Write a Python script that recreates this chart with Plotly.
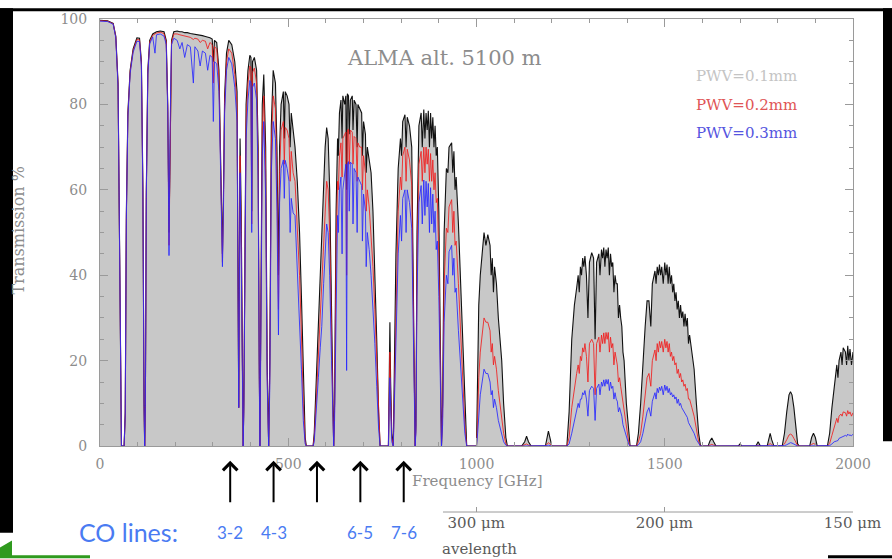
import plotly.graph_objects as go

# ---------------- data ----------------
freq_ghz = [
    0, 20, 35, 42, 48, 52, 55, 57, 64, 67, 70, 74, 80, 88, 98, 105, 110, 114, 117, 118.7,
    120.5, 123, 127, 132, 140, 146, 150, 160, 170, 176, 180, 183.3, 186.5, 190, 196, 205, 212, 218, 225, 232,
    240, 248, 252, 260, 266, 272, 280, 286, 292, 298, 301, 304, 310, 316, 320, 323, 325.2, 328, 331, 336,
    342, 350, 358, 364, 367, 368.5, 370, 372, 375, 378, 380.2, 382, 385, 388, 393, 398, 401, 403, 405, 410,
    416, 420, 423, 424.8, 427, 431, 435, 440, 444, 448, 451, 455, 460, 466, 470, 474, 477, 481, 487, 492,
    497, 502, 508, 513, 518, 524, 530, 535, 540, 545, 548, 566, 569, 574, 580, 585, 589, 594, 598, 602,
    606, 610, 615, 619, 620.7, 623, 627, 631, 636, 640, 645, 650, 653, 655, 657, 660, 665, 670, 675, 680,
    685, 690, 695, 700, 705, 710, 715, 720, 725, 730, 735, 740, 744, 766, 768, 770, 772, 775, 779, 782,
    786, 792, 798, 804, 810, 816, 822, 828, 832, 835, 837, 839, 842, 847, 853, 860, 866, 872, 878, 884,
    890, 896, 900, 904, 907, 910, 914, 920, 927, 934, 940, 946, 952, 958, 964, 969, 974, 1000, 1003, 1006,
    1010, 1015, 1020, 1025, 1030, 1036, 1042, 1048, 1053, 1058, 1063, 1067, 1072, 1078, 1082, 1120, 1128, 1133, 1138, 1145,
    1183, 1188, 1191, 1195, 1200, 1240, 1246, 1253, 1260, 1266, 1270, 1276, 1282, 1288, 1292, 1296, 1300, 1306, 1311, 1315,
    1319, 1325, 1332, 1338, 1344, 1350, 1356, 1362, 1368, 1374, 1380, 1386, 1392, 1398, 1404, 1408, 1425, 1430, 1436, 1442,
    1448, 1453, 1458, 1463, 1467, 1474, 1480, 1486, 1492, 1500, 1506, 1512, 1518, 1524, 1530, 1536, 1542, 1548, 1554, 1560,
    1566, 1572, 1578, 1584, 1590, 1595, 1615, 1620, 1625, 1630, 1636, 1695, 1700, 1705, 1742, 1748, 1754, 1772, 1777, 1780,
    1784, 1790, 1812, 1818, 1824, 1830, 1834, 1838, 1843, 1848, 1853, 1857, 1885, 1890, 1895, 1900, 1905, 1932, 1938, 1944,
    1950, 1957, 1963, 1968, 1974, 1980, 1986, 1992, 2000,
]

trans_pwv01 = [
    99.7, 99.6, 99.0, 96, 85, 50, 10, 0, 0, 8, 55, 78, 88, 93, 95.6, 95.5, 90, 60, 10, 0,
    10, 60, 88, 95, 96.5, 96.8, 97, 97.2, 97, 95, 80, 50, 80, 95, 97, 97.2, 97, 97, 96.8, 96.8,
    96.6, 96.5, 96.5, 96.3, 96.2, 96.1, 95.9, 95.8, 95.6, 95.3, 90, 95, 94.5, 88, 70, 50, 45, 60, 82, 92,
    95, 94, 90, 83, 40, 9, 40, 72, 55, 15, 0, 10, 60, 80, 88, 91.5, 91, 55, 90, 91,
    88, 70, 20, 0, 30, 80, 87, 70, 20, 0, 20, 75, 88, 85, 70, 40, 70, 80, 83, 83,
    82, 80, 78, 74, 70, 62, 50, 35, 15, 2, 0, 0, 3, 15, 30, 40, 47, 60, 70, 74.6,
    72, 60, 30, 5, 0, 10, 55, 72, 78, 81, 82, 80, 82, 60, 82.5, 82, 81, 82, 81, 80,
    80, 79, 78, 76, 73, 70, 67, 64, 55, 42, 25, 8, 0, 0, 15, 29, 15, 3, 0, 20,
    45, 65, 72, 76, 77.6, 77, 75, 70, 40, 5, 0, 5, 50, 75, 78, 78.8, 78, 78.5, 78, 77,
    75, 70, 55, 20, 0, 10, 50, 65, 70, 71, 69, 63, 52, 38, 22, 8, 0, 0, 15, 33,
    40, 46, 50, 47, 49.5, 47, 44, 42, 38, 30, 25, 20, 10, 2, 0, 0, 1, 2.3, 1, 0,
    0, 2, 3.5, 2, 0, 0, 8, 25, 33, 37, 40, 42, 44, 44.5, 40, 30, 43, 45.3, 44, 25,
    43, 45, 46, 46.5, 46, 46.5, 45, 43, 40, 38, 33, 28, 20, 10, 3, 0, 0, 3, 10, 20,
    28, 34, 34, 28, 38, 41, 42, 42.5, 42, 43, 42.5, 42, 40, 38, 36, 34, 33, 31.5, 31, 30,
    26, 22, 18, 10, 3, 0, 0, 1.2, 1.9, 1, 0, 0, 0.5, 0, 0, 1, 0, 0, 2, 3,
    1.5, 0, 0, 3, 8, 12, 12.7, 12, 9, 4, 0.5, 0, 0, 2, 3, 2, 0, 0, 3, 9,
    14, 19, 20, 22, 23, 22, 23.5, 22.7, 22,
]

trans_pwv02 = [
    99.6, 99.5, 98.9, 95.8, 84.5, 49, 9, 0, 0, 7, 54, 77.5, 87.6, 92.6, 95.2, 95.1, 89.5, 59, 9.5, 0,
    9.5, 59, 87.5, 94.6, 96.2, 96.5, 96.7, 96.9, 96.6, 94.5, 79, 47, 79, 94.5, 96.5, 96.5, 96.3, 96.2, 96, 96,
    95.7, 95.2, 95.5, 95.3, 94.5, 95, 94.8, 93, 94.5, 94, 85, 93.5, 93, 86, 68, 47, 43, 58, 80, 90,
    93, 92, 87, 80, 37, 9, 37, 68, 50, 13, 0, 9, 56, 76, 85, 89, 88.5, 52, 87.5, 88.5,
    85, 66, 18, 0, 27, 74, 82, 64, 17, 0, 17, 70, 82, 79, 62, 32, 64, 74, 76, 74.6,
    74, 72, 69, 64, 62, 52, 40, 26, 10, 1, 0, 0, 2, 10, 22, 31, 37, 48, 57, 62,
    60, 50, 25, 4, 0, 8, 45, 62, 68, 71, 72, 73, 73.5, 40, 74, 74.2, 74, 73.5, 72.5, 72,
    71, 70, 70, 68, 64, 60, 56, 50, 42, 32, 19, 6, 0, 0, 12, 22, 12, 2, 0, 14,
    36, 55, 63, 68, 70, 69.5, 67, 61, 34, 4, 0, 4, 42, 66, 69, 70, 70, 69.5, 68.5, 67,
    64, 58, 44, 15, 0, 7, 38, 51, 56, 57.7, 55, 48, 38, 26, 14, 5, 0, 0, 6, 16,
    22, 27, 30, 29, 29, 27, 24, 21, 18, 13, 9, 6, 3, 0.5, 0, 0, 0.2, 0.5, 0.2, 0,
    0, 0.5, 0.8, 0.5, 0, 0, 2, 9, 14, 17, 19, 21, 23, 24, 21, 15, 24, 25, 24, 12,
    24, 25.5, 26, 26.5, 26.6, 26.6, 25.5, 24, 22, 19, 16, 12, 8, 4, 1, 0, 0, 1, 3, 7,
    12, 16, 17, 14, 20, 22.5, 24, 24.5, 24.5, 25, 24.5, 24, 22, 21, 19.5, 18, 17, 15.5, 14.5, 13.5,
    11, 9, 7, 4, 1, 0, 0, 0.2, 0.4, 0.2, 0, 0, 0.1, 0, 0, 0.2, 0, 0, 0.4, 0.6,
    0.3, 0, 0, 0.5, 1.5, 2.6, 2.8, 2.6, 1.8, 0.8, 0.1, 0, 0, 0.4, 0.6, 0.4, 0, 0, 0.6, 2.5,
    4.5, 6.5, 7, 7.5, 8, 7.8, 8.3, 8, 7.8,
]

trans_pwv03 = [
    99.5, 99.4, 98.8, 95.6, 84, 48, 8, 0, 0, 7, 53, 77, 87.2, 92.2, 94.8, 94.7, 89, 58, 9, 0,
    9, 58, 87, 94.2, 95.8, 92, 96.3, 96.5, 96, 94, 78, 44.6, 78, 94, 95.5, 95, 93, 94.5, 91, 94,
    93.5, 85, 93.5, 92.5, 89, 92.5, 92, 88, 91.5, 91, 76, 90, 89.5, 83, 66, 45, 42, 56, 78, 88,
    91, 89.5, 84, 76, 34, 9, 34, 64, 45, 11, 0, 8, 52, 72, 81, 85.6, 85, 50, 84, 85,
    81, 62, 16, 0, 24, 68, 76, 58, 15, 0, 14, 64, 76, 72, 55, 26, 57, 65, 67, 66.9,
    65, 62, 58, 54.6, 54, 42, 30, 18, 6, 0.5, 0, 0, 1, 7, 16, 23, 28, 38, 46, 52,
    50, 40, 20, 3, 0, 6, 38, 54, 60, 63, 60, 65, 66, 17.7, 66, 66.6, 66.5, 66, 65, 64,
    63, 62, 61, 59, 55, 50, 46, 40, 33, 24, 14, 4, 0, 0, 9, 16, 9, 1, 0, 10,
    28, 45, 54, 58, 60, 60, 57, 51, 28, 3, 0, 3, 35, 57, 61, 62.3, 62, 61.5, 60.5, 59,
    55, 48, 35, 11, 0, 5, 29, 40, 45.5, 47, 44, 37, 27, 18, 9, 3, 0, 0, 3, 8,
    12, 15, 18, 17, 17, 15, 13, 11, 9, 6, 4, 2.5, 1, 0.2, 0, 0, 0, 0.1, 0, 0,
    0, 0.1, 0.2, 0.1, 0, 0, 0.5, 3, 6, 8, 10, 11, 12.5, 13, 11, 7, 13, 14, 13.5, 6,
    13.5, 14.5, 15, 15.5, 15.6, 15.6, 15, 14, 12.5, 10.5, 9, 7, 4, 2, 0.5, 0, 0, 0.3, 1, 3,
    5.5, 8, 9, 7, 10.5, 12.5, 13.5, 13.8, 14, 14.3, 14, 13.5, 12.5, 12, 11.5, 11, 10, 8.5, 7.5, 6.7,
    5, 4, 3, 1.5, 0.5, 0, 0, 0, 0.1, 0, 0, 0, 0, 0, 0, 0, 0, 0, 0.1, 0.1,
    0, 0, 0, 0.1, 0.3, 0.7, 0.8, 0.7, 0.4, 0.2, 0, 0, 0, 0.1, 0.1, 0.1, 0, 0, 0.1, 0.5,
    1, 1.2, 1.8, 2, 2.3, 2.5, 2.8, 2.6, 2.8,
]

# fine line structure inside the windows (narrow dips), same three PWV columns
detail_freq = [489.5, 505, 633, 643, 662, 672, 683, 697, 707, 801, 813, 856, 863, 869, 875, 881, 887, 893,
               924, 937, 943, 1039, 1045, 1273, 1279, 1285, 1328, 1335, 1341, 1347, 1353, 1359, 1365,
               1371, 1377, 1383, 1389, 1477, 1483, 1489, 1496, 1503, 1509, 1515, 1521, 1527, 1533, 1539,
               1545, 1551, 1557, 1563, 1960, 1971, 1983, 1989, 1996]
detail_pwv01 = [72, 70, 68, 72, 73, 74, 70, 68, 64, 68, 70, 70, 72, 74, 70, 72, 70, 68,
                64, 64, 60, 40, 36, 36, 40, 42, 40, 44, 42, 44, 40, 42, 36,
                38, 30, 30, 22, 38, 40, 40, 38, 40, 38, 38, 36, 34, 32, 30,
                30, 28, 28, 24, 16, 19, 19, 20, 19]
detail_pwv02 = [66, 62, 60, 63, 66, 66, 62, 60, 55, 60, 62, 62, 64, 66, 62, 62, 60, 57,
                50, 50, 47, 22, 19, 17, 20, 22, 22, 24, 24, 25, 22, 23, 19,
                20, 15, 14, 10, 20, 22, 23, 22, 23, 22, 21, 20, 19, 17, 16,
                15, 14, 13, 11, 5.5, 7, 7, 7.5, 7]
detail_pwv03 = [58, 50, 50, 45, 55, 52, 50, 48, 42, 48, 50, 52, 54, 56, 50, 52, 50, 46,
                38, 40, 36, 12, 9, 9, 11, 12, 12, 14, 14, 14.5, 13, 13.5, 11,
                11, 8, 8, 5, 11, 12.5, 13, 12, 13, 12.5, 12, 11.5, 11, 10, 9.5,
                9, 8, 7, 5.5, 1.3, 2, 2.3, 2.5, 2.4]

series_labels = ["PWV=0.1mm", "PWV=0.2mm", "PWV=0.3mm"]
co_freq_ghz = [345.8, 461.0, 576.3, 691.5, 806.7]
co_labels = ["3-2", "4-3", "", "6-5", "7-6"]
x_ticks = [0, 500, 1000, 1500, 2000]
y_ticks = [0, 20, 40, 60, 80, 100]
wavelength_um = [300, 200, 150]

# merge the coarse curve and the fine line structure, ordered by frequency
rows = sorted(list(zip(freq_ghz, trans_pwv01, trans_pwv02, trans_pwv03)) +
              list(zip(detail_freq, detail_pwv01, detail_pwv02, detail_pwv03)))
f_all = [r[0] for r in rows]
t01 = [r[1] for r in rows]
t02 = [r[2] for r in rows]
t03 = [r[3] for r in rows]

# ---------------- layout helpers ----------------
W, H = 892, 559
L, R, T, B = 100, 853, 11, 512   # paper area in pixels
PW, PH = R - L, B - T

def px(x):
    return (x - L) / PW

def py(y):
    return (B - y) / PH

SERIF = "DejaVu Serif, serif"
GRAY = "#8c8c8c"
DARK = "#5a5a5a"
CO_BLUE = "#4a7bf2"
SANS = "Lato, Noto Sans, sans-serif"

fig = go.Figure()
fig.add_trace(go.Scatter(
    x=f_all, y=t01, mode="lines", name=series_labels[0],
    line=dict(color="#111111", width=1.1), fill="tozeroy", fillcolor="#c8c8c8",
    showlegend=False, hoverinfo="skip"))
fig.add_trace(go.Scatter(
    x=f_all, y=t02, mode="lines", name=series_labels[1],
    line=dict(color="rgba(240,30,30,0.85)", width=1), showlegend=False, hoverinfo="skip"))
fig.add_trace(go.Scatter(
    x=f_all, y=t03, mode="lines", name=series_labels[2],
    line=dict(color="rgba(40,40,255,0.85)", width=1), showlegend=False, hoverinfo="skip"))
# invisible trace carrying the wavelength axis
fig.add_trace(go.Scatter(x=[1000], y=[-50], xaxis="x2", mode="markers",
                         marker=dict(opacity=0), showlegend=False, hoverinfo="skip"))

wl_ghz = [299792.458 / w for w in wavelength_um]

axis_common = dict(showline=True, linecolor="#9a9a9a", linewidth=1, ticks="inside",
                   tickcolor="#9a9a9a", showgrid=False, zeroline=False,
                   tickfont=dict(family=SERIF, size=14, color=GRAY))

fig.update_layout(
    width=W, height=H,
    margin=dict(l=L, r=W - R, t=T, b=H - B, pad=0),
    paper_bgcolor="white", plot_bgcolor="white",
    xaxis=dict(range=[0, 2000], tickvals=x_ticks, ticklen=8, mirror="ticks",
               minor=dict(dtick=100, ticklen=4, ticks="inside", tickcolor="#9a9a9a"),
               ticklabelstandoff=5, **axis_common),
    yaxis=dict(range=[0, 100], tickvals=y_ticks, ticklen=8, mirror="ticks",
               domain=[py(445), 1],
               minor=dict(dtick=5, ticklen=4, ticks="inside", tickcolor="#9a9a9a"),
               ticklabelstandoff=9, **axis_common),
    xaxis2=dict(range=[0, 2000], overlaying="x", anchor="free", position=0, side="bottom",
                showline=False, showgrid=False, zeroline=False, ticks="inside", ticklen=5,
                tickcolor="#9a9a9a", tickvals=wl_ghz, ticklabelstandoff=0,
                ticktext=[f"{w} \u03bcm" for w in wavelength_um],
                tickfont=dict(family=SERIF, size=15, color=DARK)),
)

shapes = []
# wavelength axis line (visible part)
shapes.append(dict(type="line", xref="x", yref="paper", x0=911, x1=2000, y0=0, y1=0,
                   line=dict(color="#9a9a9a", width=1)))
# slide borders
shapes.append(dict(type="rect", xref="paper", yref="paper", x0=px(0), x1=px(13), y0=py(533), y1=py(0),
                   fillcolor="black", line=dict(width=0), layer="above"))
shapes.append(dict(type="rect", xref="paper", yref="paper", x0=px(0), x1=px(892), y0=py(3), y1=py(0),
                   fillcolor="black", line=dict(width=0), layer="above"))
shapes.append(dict(type="rect", xref="paper", yref="paper", x0=px(883), x1=px(892), y0=py(440), y1=py(0),
                   fillcolor="black", line=dict(width=0), layer="above"))
shapes.append(dict(type="rect", xref="paper", yref="paper", x0=px(828), x1=px(892), y0=py(559), y1=py(556),
                   fillcolor="black", line=dict(width=0), layer="above"))
# green corner
shapes.append(dict(type="path", xref="paper", yref="paper",
                   path=f"M {px(0)},{py(559)} L {px(0)},{py(548)} L {px(12)},{py(541)} L {px(12)},{py(556)} L {px(90)},{py(556)} L {px(90)},{py(559)} Z",
                   fillcolor="#2f9a1e", line=dict(width=0), layer="above"))
fig.update_layout(shapes=shapes)

ann = []
ann.append(dict(text="ALMA alt. 5100 m", xref="paper", yref="paper", x=px(345), y=py(51),
                xanchor="left", yanchor="middle", showarrow=False,
                font=dict(family=SERIF, size=21, color=GRAY)))
legend_colors = ["#c4c4c4", "#e05555", "#5555e0"]
for i, (lab, col) in enumerate(zip(series_labels, legend_colors)):
    ann.append(dict(text=lab, xref="paper", yref="paper", x=px(694), y=py(69 + 29 * i),
                    xanchor="left", yanchor="middle", showarrow=False,
                    font=dict(family=SERIF, size=15, color=col)))
ann.append(dict(text="Transmission %", xref="paper", yref="paper", x=px(19), y=py(226),
                textangle=-90, xanchor="center", yanchor="middle", showarrow=False,
                font=dict(family=SERIF, size=16, color=GRAY)))
ann.append(dict(text="Frequency [GHz]", xref="paper", yref="paper", x=px(477), y=py(480),
                xanchor="center", yanchor="middle", showarrow=False,
                font=dict(family=SERIF, size=15, color=GRAY)))
ann.append(dict(text="avelength", xref="paper", yref="paper", x=px(440), y=py(550),
                xanchor="left", yanchor="middle", showarrow=False,
                font=dict(family=SERIF, size=15, color=DARK)))
for f, lab in zip(co_freq_ghz, co_labels):
    ann.append(dict(text="", x=f, xref="x", y=py(460), yref="paper", showarrow=True,
                    ax=0, ay=43, arrowhead=4, arrowsize=1.4, arrowwidth=2, arrowcolor="black",
                    standoff=0))
    if lab:
        ann.append(dict(text=lab, x=f, xref="x", y=py(533), yref="paper", showarrow=False,
                        xanchor="center", yanchor="middle",
                        font=dict(family=SANS, size=17, color=CO_BLUE)))
ann.append(dict(text="CO lines:", xref="paper", yref="paper", x=px(77), y=py(532),
                xanchor="left", yanchor="middle", showarrow=False,
                font=dict(family=SANS, size=25, color=CO_BLUE)))
fig.update_layout(annotations=ann)

fig.write_html("out.html")
